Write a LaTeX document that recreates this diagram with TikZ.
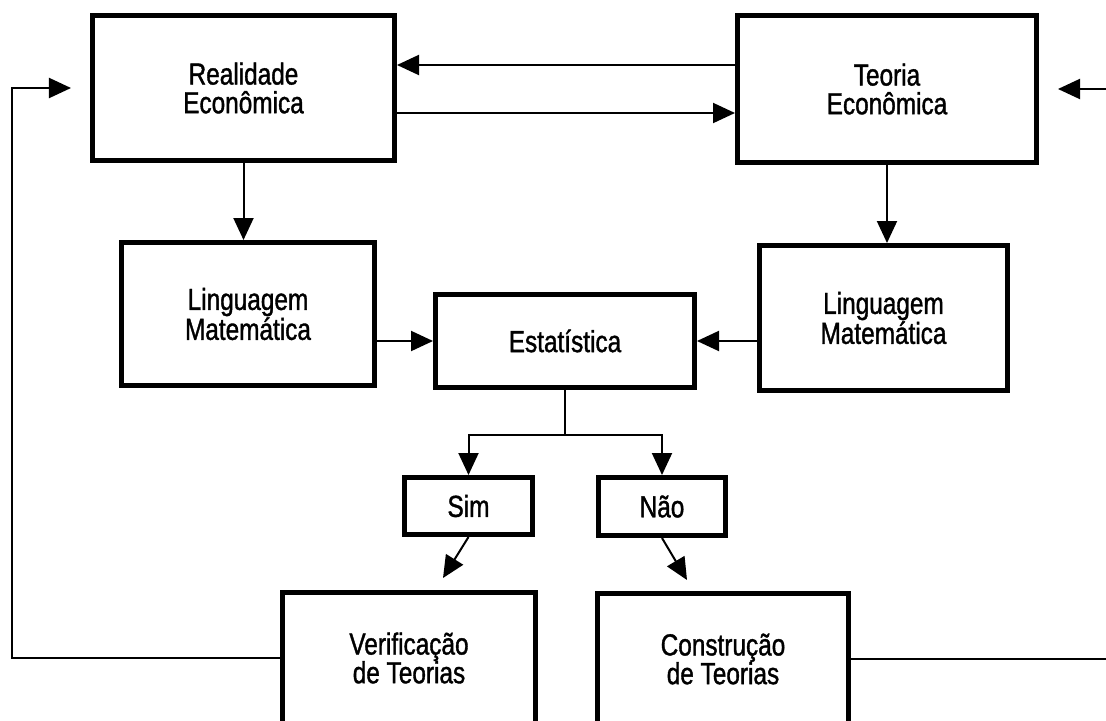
\documentclass[tikz,border=0pt]{standalone}
\usepackage{fontspec}
\setmainfont{Liberation Sans}[FakeStretch=0.8, FakeBold=1.2]
\usetikzlibrary{arrows.meta,calc}

\begin{document}
\begin{tikzpicture}[x=0.03cm, y=-0.03cm,
    caixa/.style 2 args={draw, line width=0.15cm, align=center, inner sep=0pt,
        minimum width=#1*0.03cm, minimum height=#2*0.03cm,
        font=\fontsize{26}{24.5}\selectfont},
    seta/.style={draw, line width=0.06cm, -{Triangle[length=0.66cm, width=0.6cm]}},
    linha/.style={draw, line width=0.06cm}
  ]
  \clip (0,0) rectangle (1106,721);

  % caixas
  \node[caixa={302}{145}] (real)   at (243.5,88)  {Realidade\\Econômica};
  \node[caixa={299}{147}] (teoria) at (887,89)    {Teoria\\Econômica};
  \node[caixa={253}{143}] (lingL)  at (248,314)   {Linguagem\\Matemática};
  \node[caixa={248}{145}] (lingR)  at (883.5,318) {Linguagem\\Matemática};
  \node[caixa={259}{93}]  (estat)  at (565,341)   {Estatística};
  \node[caixa={128}{57}]  (sim)    at (468.5,506) {Sim};
  \node[caixa={127}{58}]  (nao)    at (662,506.5) {Não};
  \node[caixa={253}{131}] (verif)  at (409,658)   {Verificação\\de Teorias};
  \node[caixa={251}{131}] (constr) at (723,659)   {Construção\\de Teorias};

  \coordinate (loopL) at (12,0);
  \coordinate (loopR) at (1112,0);
  \coordinate (split) at ($(estat.south)+(0,45)$);
  \coordinate (ida)   at ($(teoria.west)+(0,-24)$);
  \coordinate (volta) at ($(real.east)+(0,25)$);

  % setas
  \draw[seta] (ida) -- (ida -| real.east);
  \draw[seta] (volta) -- (volta -| teoria.west);
  \draw[seta] (real.south) -- (real.south |- lingL.north);
  \draw[seta] (teoria.south) -- (teoria.south |- lingR.north);
  \draw[seta] (lingL.east |- estat.west) -- (estat.west);
  \draw[seta] (lingR.west |- estat.east) -- (estat.east);
  \draw[linha] (estat.south) -- (split);
  \draw[seta] (split) -| (sim.north);
  \draw[seta] (split) -| (nao.north);
  \draw[seta] (sim.south) -- ($(verif.north)+(34,-12)$);
  \draw[seta] (nao.south) -- ($(constr.north)+(-36,-11)$);
  \draw[seta] (verif.west) -- (verif.west -| loopL) -- (loopL |- real.west)
    -- ($(real.west)+(-19,0)$);
  \draw[linha] (constr.east) -- (constr.east -| loopR);
  \draw[seta] (loopR |- teoria.east) -- ($(teoria.east)+(19,0)$);
\end{tikzpicture}
\end{document}
